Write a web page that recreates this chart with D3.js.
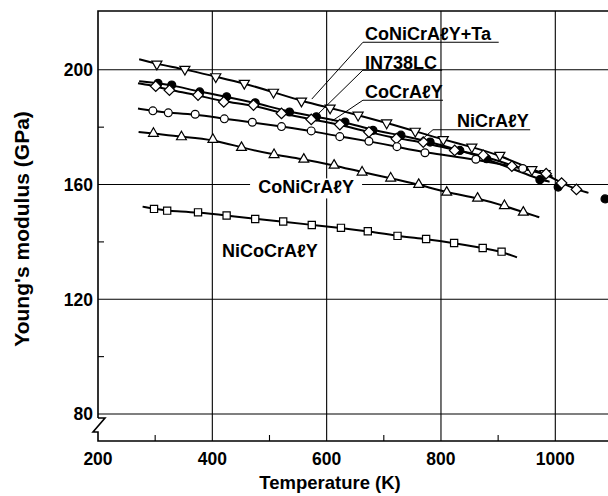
<!DOCTYPE html>
<html>
<head>
<meta charset="utf-8">
<script src="https://cdn.jsdelivr.net/npm/d3@7"></script>
<style>
  body { margin: 0; background: #fff; }
  svg { display: block; }
  text { font-family: "Liberation Sans", Arial, sans-serif; font-weight: bold; fill: #000; }
</style>
</head>
<body>
<svg id="chart" width="608" height="496"></svg>
<script>
// axis ticks
const xTicks = [200, 400, 600, 800, 1000];
const xMinor = [300, 500, 700, 900, 1100];
const yTicks = [80, 120, 160, 200];
const yMinor = [100, 140, 180];

// CoNiCrAlY+Ta (down triangles)
const taTemp = [303, 352, 406, 456, 507, 556, 606, 655, 705, 755, 804, 854, 903, 959, 982];
const taMod  = [202.0, 200.2, 197.6, 195.3, 192.2, 189.1, 186.7, 184.2, 181.5, 178.6, 175.7, 173.1, 170.2, 165.2, 163.8];
const taEnds = [[272, 203.7], [995, 162.8]];

// IN738LC (filled circles)
const inTemp = [305, 329, 378, 425, 475, 535, 582, 632, 681, 730, 781, 833, 880, 973, 1005, 1087];
const inMod  = [195.3, 194.7, 192.3, 190.6, 188.5, 185.3, 183.6, 181.8, 178.9, 177.2, 174.8, 171.9, 169.0, 161.7, 159.1, 155.0];
const inEnds = [[272, 196.0], [990, 161.0]];

// CoCrAlY (diamonds)
const coTemp = [301, 325, 375, 420, 472, 521, 573, 623, 674, 722, 769, 824, 874, 924, 984, 1011, 1037];
const coMod  = [194.3, 192.9, 191.2, 188.8, 187.7, 184.8, 182.7, 180.9, 178.3, 176.0, 174.8, 171.9, 170.2, 166.4, 163.8, 160.5, 158.3];
const coEnds = [[270, 195.3], [1058, 157.1]];

// NiCrAlY (open circles)
const niTemp = [296, 323, 370, 421, 470, 521, 573, 623, 674, 723, 772, 861, 943];
const niMod  = [185.7, 185.0, 184.5, 182.9, 181.7, 180.2, 178.7, 176.7, 175.1, 173.2, 171.1, 168.8, 165.6];
const niEnds = [[270, 186.5], [965, 164.5]];

// CoNiCrAlY (up triangles)
const cnTemp = [297, 346, 401, 451, 508, 560, 613, 662, 712, 761, 810, 864, 911, 944];
const cnMod  = [177.8, 176.6, 175.7, 172.9, 170.4, 168.8, 166.7, 164.3, 162.2, 160.0, 157.3, 155.2, 152.6, 150.3];
const cnEnds = [[271, 178.3], [972, 148.6]];

// NiCoCrAlY (squares)
const ncTemp = [298, 321, 375, 425, 475, 524, 574, 625, 672, 724, 774, 823, 873, 906];
const ncMod  = [151.5, 150.9, 150.3, 149.2, 148.0, 147.1, 145.9, 144.9, 143.7, 142.1, 141.0, 139.6, 137.9, 136.6];
const ncEnds = [[278, 152.3], [933, 134.6]];

// label text, text anchor [T, E], underline [T1, T2, E], leader end [T, E]
const labelNames = ["CoNiCrA\u2113Y+Ta", "IN738LC", "CoCrA\u2113Y", "NiCrA\u2113Y", "CoNiCrA\u2113Y", "NiCoCrA\u2113Y"];
const labelPos   = [[667, 210.3], [667, 200.4], [667, 190.1], [828, 180.0], [564, 156.9], [417, 134.8]];
const underlines = [[663.5, 901, 209.6], [663.5, 802, 199.9], [663.5, 803.5, 189.4], [786, 956, 179.1], null, null];
const leaderEnds = [[574, 189.8], [583, 184.2], [609, 182.1], [763, 175.1], null, null];

const svg = d3.select("#chart");
const W = 608;

const x = d3.scaleLinear().domain([200, 1000]).range([98, 555.3]);
const y = d3.scaleLinear().domain([80, 200]).range([414, 69.8]);
const plotTop = 11;
const plotBottom = 441;
const x0 = x(200);

// grid
const grid = svg.append("g").attr("stroke", "#000").attr("stroke-width", 1.1);
yTicks.forEach(function(v) {
    grid.append("line").attr("x1", x0).attr("x2", W).attr("y1", y(v)).attr("y2", y(v));
});
xTicks.slice(1).forEach(function(v) {
    grid.append("line").attr("x1", x(v)).attr("x2", x(v)).attr("y1", plotTop).attr("y2", plotBottom);
});

// minor ticks
yMinor.forEach(function(v) {
    grid.append("line").attr("x1", x0).attr("x2", x0 + 6).attr("y1", y(v)).attr("y2", y(v));
});
xMinor.forEach(function(v) {
    grid.append("line").attr("x1", x(v)).attr("x2", x(v)).attr("y1", plotBottom).attr("y2", plotBottom - 6);
});

// frame with axis break
const frame = svg.append("g").attr("fill", "none").attr("stroke", "#000").attr("stroke-width", 1.6);
frame.append("path").attr("d", "M" + W + "," + plotTop + "H" + x0 + "V" + (y(80) + 4));
frame.append("path").attr("d",
    "M" + x0 + "," + (y(80) + 4) + "h7" + "L" + (x0 - 5) + "," + (y(80) + 18) +
    "H" + x0 + "V" + plotBottom + "H" + W);

// tick labels
svg.append("g").selectAll("text").data(yTicks).join("text")
    .attr("x", x0 - 5).attr("y", d => y(d)).attr("dy", "0.36em")
    .attr("text-anchor", "end").attr("font-size", 17.5)
    .text(d => d);
svg.append("g").selectAll("text").data(xTicks).join("text")
    .attr("x", d => x(d)).attr("y", 465)
    .attr("text-anchor", "middle").attr("font-size", 17.5)
    .text(d => d);

// axis titles
svg.append("text").attr("x", 330).attr("y", 489).attr("text-anchor", "middle")
    .attr("font-size", 18.5).text("Temperature (K)");
svg.append("text").attr("transform", "translate(29,229) rotate(-90)")
    .attr("text-anchor", "middle").attr("font-size", 21).text("Young's modulus (GPa)");

// series, drawn with the filled circles first so the diamonds sit on top
const series = [
    { temp: inTemp, mod: inMod, ends: inEnds, type: d3.symbolCircle, size: 50, rot: 0, fill: "#000" },
    { temp: taTemp, mod: taMod, ends: taEnds, type: d3.symbolTriangle, size: 44, rot: 180, fill: "#fff" },
    { temp: coTemp, mod: coMod, ends: coEnds, type: d3.symbolSquare, size: 56, rot: 45, fill: "#fff" },
    { temp: niTemp, mod: niMod, ends: niEnds, type: d3.symbolCircle, size: 48, rot: 0, fill: "#fff" },
    { temp: cnTemp, mod: cnMod, ends: cnEnds, type: d3.symbolTriangle, size: 42, rot: 0, fill: "#fff" },
    { temp: ncTemp, mod: ncMod, ends: ncEnds, type: d3.symbolSquare, size: 52, rot: 0, fill: "#fff" }
];

// smooth trend curves through the points
const lineGen = d3.line().x(d => x(d[0])).y(d => y(d[1])).curve(d3.curveBasis);
const lines = svg.append("g");
series.forEach(function(s) {
    const pts = s.temp.map((t, i) => [t, s.mod[i]])
        .filter(d => d[0] > s.ends[0][0] && d[0] < s.ends[1][0]);
    const path = [s.ends[0]].concat(pts, [s.ends[1]]);
    lines.append("path").attr("d", lineGen(path))
        .attr("fill", "none").attr("stroke", "#000").attr("stroke-width", 2);
});

series.forEach(function(s) {
    const pts = s.temp.map((t, i) => [t, s.mod[i]]);
    svg.append("g").selectAll("path").data(pts).join("path")
        .attr("d", d3.symbol().type(s.type).size(s.size))
        .attr("transform", d => "translate(" + x(d[0]) + "," + y(d[1]) + ") rotate(" + s.rot + ")")
        .attr("fill", s.fill).attr("stroke", "#000").attr("stroke-width", 1.2);
});

// labels
const lab = svg.append("g");
labelNames.forEach(function(name, i) {
    const p = labelPos[i];
    if (i === 4) {
        // white box hides the gridline behind the label
        lab.append("rect").attr("x", x(p[0]) - 56).attr("y", y(p[1]) - 15)
            .attr("width", 112).attr("height", 20).attr("fill", "#fff");
        lab.append("text").attr("x", x(p[0])).attr("y", y(p[1]))
            .attr("text-anchor", "middle").attr("font-size", 18).text(name);
        return;
    }
    lab.append("text").attr("x", x(p[0])).attr("y", y(p[1]))
        .attr("font-size", 18).text(name);
    const u = underlines[i];
    const e = leaderEnds[i];
    if (u) {
        lab.append("line").attr("x1", x(u[0])).attr("x2", x(u[1])).attr("y1", y(u[2])).attr("y2", y(u[2]))
            .attr("stroke", "#000").attr("stroke-width", 1.1);
    }
    if (e) {
        lab.append("line").attr("x1", x(u[0])).attr("y1", y(u[2])).attr("x2", x(e[0])).attr("y2", y(e[1]))
            .attr("stroke", "#000").attr("stroke-width", 1);
    }
});
</script>
</body>
</html>
